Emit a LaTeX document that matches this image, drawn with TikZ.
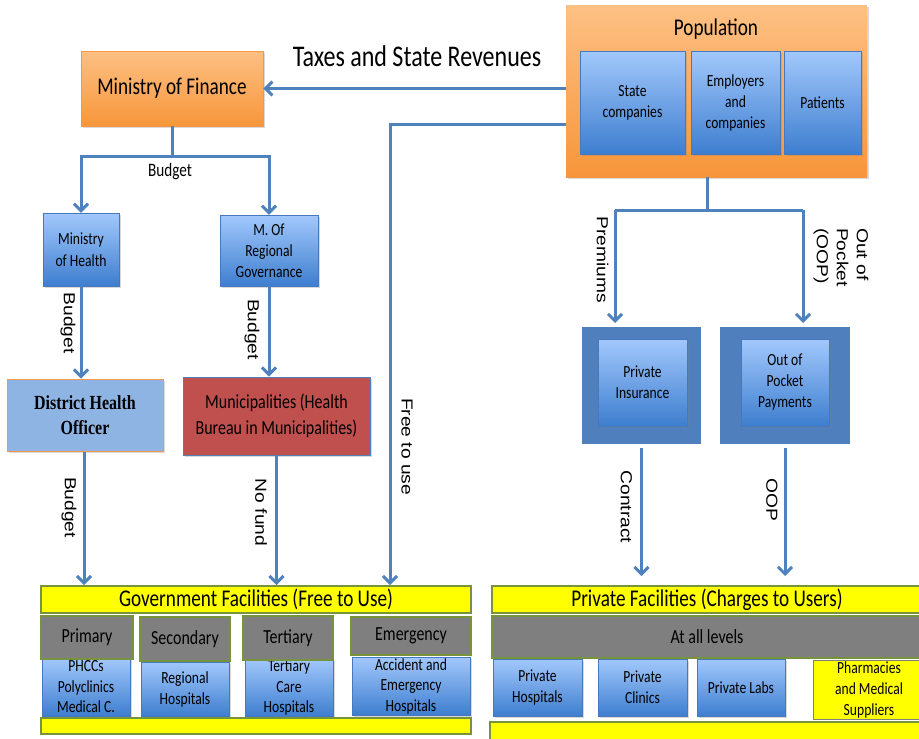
\documentclass[tikz,border=0pt]{standalone}
\usepackage{fontspec}
\setmainfont{Carlito}[FakeStretch=0.8]
\newfontfamily\rotfont{Liberation Sans}[FakeStretch=1.2]
\newfontfamily\dhofont{Liberation Serif}[FakeStretch=0.8]
\usetikzlibrary{arrows.meta,shadows}
\definecolor{arrowblue}{RGB}{79,129,189}
\definecolor{frameblue}{RGB}{79,128,189}
\definecolor{bluetop}{RGB}{162,200,252}
\definecolor{bluebot}{RGB}{62,126,207}
\definecolor{blueedge}{RGB}{70,120,190}
\definecolor{orangetop}{RGB}{253,192,132}
\definecolor{orangebot}{RGB}{247,150,58}
\definecolor{orangeedge}{RGB}{247,150,70}
\definecolor{dhoblue}{RGB}{142,180,227}
\definecolor{munired}{RGB}{192,80,77}
\definecolor{bandedge}{RGB}{119,147,60}
\definecolor{levelgray}{RGB}{127,127,127}
\definecolor{bandyellow}{RGB}{255,255,0}
\begin{document}
\begin{tikzpicture}[x=1pt,y=-1pt,
  flow/.style={draw=arrowblue,line width=3pt,-{Straight Barb[length=7pt,width=14pt]}},
  link/.style={draw=arrowblue,line width=3pt},
  softshadow/.style={drop shadow={shadow xshift=1.5pt,shadow yshift=-2pt,opacity=.3}},
  orangebox/.style={draw=orangeedge,line width=.6pt,top color=orangetop,bottom color=orangebot,softshadow},
  bluebox/.style={draw=blueedge,line width=.5pt,top color=bluetop,bottom color=bluebot,softshadow,
    align=center,inner sep=1pt,font=\fontsize{17}{21}\selectfont},
  framebox/.style={fill=frameblue,draw=white,line width=4pt,softshadow},
  graybox/.style={draw=bandedge,line width=2pt,fill=levelgray,inner sep=1pt,font=\fontsize{20}{24}\selectfont},
  yellowbar/.style={draw=bandedge,line width=2pt,fill=bandyellow,inner sep=0pt,font=\fontsize{24}{28}\selectfont},
  rot/.style={rotate=-90,inner sep=4pt,align=left,font=\rotfont\fontsize{16}{20}\selectfont}]
\useasboundingbox (0,0) rectangle (919,739);

\node[orangebox,minimum width=182pt,minimum height=75pt,font=\fontsize{24}{28}\selectfont] (mof) at (172,88.5) {Ministry of Finance};
\node[font=\fontsize{30}{34}\selectfont] (taxes) at (417,56) {Taxes and State Revenues};
\node[orangebox,draw=none,minimum width=301pt,minimum height=172pt] (pop) at (716.5,91) {};
\node[font=\fontsize{24}{28}\selectfont] (poplbl) at (716,29) {Population};
\node[bluebox,minimum width=105pt,minimum height=103pt] (statec) at (632.5,102.5) {State\\companies};
\node[bluebox,minimum width=89pt,minimum height=103pt] (employ) at (735.5,102.5) {Employers\\and\\companies};
\node[bluebox,minimum width=77pt,minimum height=103pt] (patients) at (822.5,102.5) {Patients};

\node[bluebox,minimum width=76pt,minimum height=73pt,font=\fontsize{17}{22}\selectfont] (moh) at (81,249.5) {Ministry\\of Health};
\node[bluebox,minimum width=98pt,minimum height=71pt,font=\fontsize{17}{21}\selectfont] (mrg) at (269,250.5) {M. Of\\Regional\\Governance};
\node[draw=orangeedge,line width=1pt,fill=dhoblue,softshadow,minimum width=156pt,minimum height=72pt,align=center,
  font=\dhofont\bfseries\fontsize{20}{25}\selectfont] (dho) at (85,415) {District Health\\Officer};
\node[draw=arrowblue,line width=1pt,fill=munired,softshadow,minimum width=187pt,minimum height=78pt,align=center,
  font=\fontsize{20}{26}\selectfont] (muni) at (276.5,416) {Municipalities (Health\\Bureau in Municipalities)};

\node[framebox,minimum width=123pt,minimum height=121pt] (pinsf) at (641.5,385.5) {};
\node[framebox,minimum width=134pt,minimum height=121pt] (oopf) at (785,385.5) {};
\node[bluebox,minimum width=89pt,minimum height=87pt] (pins) at (642.5,382.5) {Private\\Insurance};
\node[bluebox,minimum width=88pt,minimum height=87pt] (oop) at (785,382.5) {Out of\\Pocket\\Payments};

\node[yellowbar,minimum width=430pt,minimum height=27pt] (gov) at (256,599.5) {Government Facilities (Free to Use)};
\node[bluebox,minimum width=88pt,minimum height=58pt,font=\fontsize{17}{20.5}\selectfont] (phcc) at (86,687) {PHCCs\\Polyclinics\\Medical C.};
\node[bluebox,minimum width=88pt,minimum height=54pt] (regh) at (185,689) {Regional\\Hospitals};
\node[bluebox,minimum width=88pt,minimum height=57pt,font=\fontsize{17}{20.5}\selectfont] (terh) at (289,687.5) {Tertiary\\Care\\Hospitals};
\node[bluebox,minimum width=118pt,minimum height=58pt,font=\fontsize{17}{20.5}\selectfont] (aeh) at (411,686) {Accident and\\Emergency\\Hospitals};
\node[graybox,minimum width=92pt,minimum height=43pt] (prim) at (87,637.5) {Primary};
\node[graybox,minimum width=90pt,minimum height=44pt] (sec) at (185,639) {Secondary};
\node[graybox,minimum width=90pt,minimum height=44pt] (ter) at (288,638) {Tertiary};
\node[graybox,minimum width=120pt,minimum height=38pt] (emer) at (411,636) {Emergency};
\node[yellowbar,minimum width=430pt,minimum height=16pt] (govbot) at (256,726) {};

\node[yellowbar,minimum width=430pt,minimum height=27pt] (priv) at (707,599.5) {Private Facilities (Charges to Users)};
\node[graybox,minimum width=430pt,minimum height=42pt] (alllev) at (707,637) {At all levels};
\node[bluebox,minimum width=89pt,minimum height=57pt] (pvh) at (537.5,687.5) {Private\\Hospitals};
\node[bluebox,minimum width=89pt,minimum height=57pt] (pvc) at (642.5,687.5) {Private\\Clinics};
\node[bluebox,minimum width=88pt,minimum height=57pt] (pvl) at (741,687.5) {Private Labs};
\node[draw=levelgray,line width=.8pt,fill=bandyellow,minimum width=112pt,minimum height=58pt,inner sep=1pt,align=center,
  font=\fontsize{17}{21}\selectfont] (pharm) at (869,690) {Pharmacies\\and Medical\\Suppliers};
\node[yellowbar,minimum width=432pt,minimum height=20pt] (privbot) at (706,732) {};

\coordinate (bud) at (172,156);
\coordinate (free) at (390,124);
\coordinate (pbr) at (707,210);
\coordinate (prem) at (615,210);
\coordinate (oopc) at (803,210);

\draw[flow] (pop.west |- mof) -- (mof.east);
\draw[link] (mof.south) -- (bud);
\draw[flow] (bud) -| (moh.north);
\draw[flow] (bud) -| (mrg.north);
\node[font=\fontsize{19}{22}\selectfont] (budlbl) at (170,172) {Budget};
\draw[flow] (moh.south) -- (moh.south |- dho.north) node[rot,pos=.40,anchor=north,inner sep=4pt] {Budget};
\draw[flow] (mrg.south) -- (mrg.south |- muni.north) node[rot,pos=.48,anchor=north,inner sep=8pt] {Budget};
\draw[flow] (dho.south -| 84,0) -- (84,0 |- gov.north) node[rot,pos=.42,anchor=north,inner sep=6pt] {Budget};
\draw[flow] (muni.south) -- (muni.south |- gov.north) node[rot,pos=.44,anchor=north,inner sep=8pt] {No fund};
\draw[flow] (pop.west |- free) -- (free) -- (free |- gov.north) node[rot,pos=.70,anchor=south,inner sep=10pt] {Free to use};

\draw[link] (pop.south -| pbr) -- (pbr);
\draw[link] (prem) -- (oopc);
\draw[flow] (prem) -- (prem |- pinsf.north) node[rot,pos=.44,anchor=north,inner sep=5pt] {Premiums};
\draw[flow] (oopc) -- (oopc |- oopf.north) node[rot,pos=.42,anchor=south,inner sep=9pt] {Out of\\Pocket\\(OOP)};
\draw[flow,shorten >=9pt] (pinsf.south) -- (pinsf.south |- priv.north) node[rot,pos=.43,anchor=north,inner sep=8pt] {Contract};
\draw[flow,shorten >=9pt] (oopf.south) -- (oopf.south |- priv.north) node[rot,pos=.38,anchor=north,inner sep=6pt] {OOP};
\end{tikzpicture}
\end{document}
